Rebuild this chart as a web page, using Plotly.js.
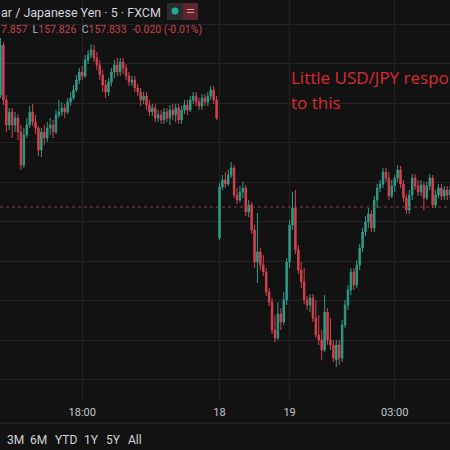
<!DOCTYPE html>
<html><head><meta charset="utf-8">
<script src="https://cdn.plot.ly/plotly-3.0.1.min.js"></script>
<style>html,body{margin:0;padding:0;background:#121212;}#chart{width:450px;height:450px;}</style>
</head><body><div id="chart"></div>
<script>
const openP = [157.945,157.995,157.940,157.915,157.928,157.915,157.922,157.908,157.875,157.905,
157.915,157.928,157.918,157.912,157.890,157.908,157.902,157.912,157.915,157.908,
157.925,157.928,157.932,157.928,157.938,157.942,157.950,157.960,157.968,157.964,
157.980,157.985,157.990,157.982,157.975,157.965,157.955,157.948,157.958,157.968,
157.975,157.968,157.978,157.972,157.964,157.958,157.960,157.952,157.948,157.940,
157.944,157.935,157.928,157.932,157.922,157.925,157.920,157.928,157.922,157.930,
157.925,157.932,157.920,157.930,157.935,157.930,157.940,157.944,157.938,157.934,
157.942,157.938,157.944,157.950,157.940,
157.802,157.853,157.860,157.856,157.865,157.872,157.845,157.840,157.848,157.852,
157.828,157.835,157.810,157.778,157.788,157.775,157.768,157.748,157.738,157.710,
157.702,157.726,157.718,157.740,157.778,157.815,157.832,157.790,157.770,157.758,
157.740,157.735,157.742,157.722,157.705,157.700,157.690,157.728,157.700,157.695,
157.680,157.695,157.682,157.715,157.735,157.750,157.768,157.755,157.775,157.792,
157.808,157.818,157.826,157.812,157.840,157.852,157.856,157.868,157.862,157.844,
157.854,157.862,157.870,157.856,157.842,157.830,157.845,157.862,157.854,157.848,
157.855,157.842,157.854,157.862,157.835,157.845,157.852,157.844,157.850,157.845];
const highP = [158.002,157.998,157.945,157.932,157.932,157.928,157.926,157.915,157.912,157.922,
157.934,157.936,157.925,157.914,157.912,157.915,157.918,157.922,157.920,157.930,
157.940,157.938,157.936,157.942,157.948,157.955,157.965,157.972,157.974,157.985,
157.990,157.996,157.995,157.988,157.980,157.970,157.960,157.962,157.972,157.980,
157.982,157.982,157.982,157.976,157.968,157.964,157.964,157.956,157.952,157.948,
157.948,157.940,157.936,157.936,157.930,157.930,157.932,157.932,157.935,157.936,
157.936,157.936,157.934,157.940,157.940,157.944,157.948,157.948,157.942,157.946,
157.946,157.948,157.954,157.954,157.944,
157.857,157.865,157.868,157.870,157.878,157.875,157.852,157.854,157.858,157.855,
157.840,157.838,157.815,157.827,157.792,157.785,157.772,157.752,157.742,157.725,
157.738,157.732,157.748,157.782,157.820,157.848,157.850,157.795,157.778,157.772,
157.744,157.746,157.746,157.740,157.725,157.710,157.745,157.732,157.722,157.700,
157.700,157.700,157.720,157.740,157.755,157.772,157.772,157.780,157.796,157.812,
157.824,157.832,157.830,157.844,157.856,157.860,157.872,157.872,157.868,157.860,
157.865,157.875,157.874,157.860,157.846,157.850,157.866,157.866,157.860,157.860,
157.858,157.858,157.866,157.865,157.850,157.856,157.856,157.854,157.854,157.854];
const lowP = [157.942,157.935,157.908,157.910,157.902,157.908,157.900,157.870,157.872,157.902,
157.912,157.914,157.906,157.884,157.883,157.895,157.898,157.905,157.902,157.906,
157.922,157.924,157.922,157.926,157.934,157.940,157.948,157.956,157.960,157.962,
157.976,157.982,157.978,157.970,157.960,157.948,157.942,157.944,157.954,157.962,
157.964,157.964,157.966,157.960,157.954,157.954,157.948,157.944,157.934,157.936,
157.930,157.924,157.924,157.918,157.918,157.916,157.916,157.918,157.915,157.920,
157.918,157.916,157.916,157.926,157.925,157.928,157.936,157.934,157.930,157.930,
157.934,157.934,157.940,157.936,157.920,
157.800,157.850,157.852,157.854,157.862,157.842,157.836,157.838,157.842,157.824,
157.823,157.806,157.772,157.757,157.770,157.764,157.744,157.734,157.706,157.698,
157.700,157.710,157.715,157.735,157.772,157.810,157.786,157.766,157.752,157.736,
157.730,157.728,157.718,157.702,157.695,157.680,157.688,157.695,157.690,157.678,
157.673,157.675,157.678,157.712,157.730,157.745,157.750,157.752,157.770,157.788,
157.804,157.812,157.808,157.808,157.832,157.848,157.852,157.858,157.840,157.842,
157.848,157.858,157.852,157.838,157.826,157.826,157.840,157.850,157.844,157.844,
157.830,157.840,157.850,157.832,157.832,157.842,157.840,157.840,157.840,157.842];
const closeP = [157.995,157.940,157.915,157.928,157.915,157.922,157.908,157.875,157.905,157.915,
157.928,157.918,157.912,157.890,157.908,157.902,157.912,157.915,157.908,157.925,
157.928,157.932,157.928,157.938,157.942,157.950,157.960,157.968,157.964,157.980,
157.985,157.990,157.982,157.975,157.965,157.955,157.948,157.958,157.968,157.975,
157.968,157.978,157.972,157.964,157.958,157.960,157.952,157.948,157.940,157.944,
157.935,157.928,157.932,157.922,157.925,157.920,157.928,157.922,157.930,157.925,
157.932,157.920,157.930,157.935,157.930,157.940,157.944,157.938,157.934,157.942,
157.938,157.944,157.950,157.940,157.922,
157.853,157.860,157.856,157.865,157.872,157.845,157.840,157.848,157.852,157.828,
157.835,157.810,157.778,157.788,157.775,157.768,157.748,157.738,157.710,157.702,
157.726,157.718,157.740,157.778,157.815,157.832,157.790,157.770,157.758,157.740,
157.735,157.742,157.722,157.705,157.700,157.690,157.728,157.700,157.695,157.682,
157.695,157.682,157.715,157.735,157.750,157.768,157.755,157.775,157.792,157.808,
157.818,157.826,157.812,157.840,157.852,157.856,157.868,157.862,157.844,157.854,
157.862,157.870,157.856,157.842,157.830,157.845,157.862,157.854,157.848,157.855,
157.842,157.854,157.862,157.835,157.845,157.852,157.844,157.850,157.845,157.850];

const tickPositions = [28, 75, 99, 135];
const tickLabels = ['18:00', '18', '19', '03:00'];
const lastPrice = 157.833;
const headerTitle = 'ar / Japanese Yen · 5 · FXCM';
const ohlcParts = [['', '7.857'], ['L', '157.826'], ['C', '157.833'], ['', '-0.020 (-0.01%)']];
const rangeButtons = ['3M', '6M', 'YTD', '1Y', '5Y', 'All'];
const noteLines = ['Little USD/JPY respo', 'to this'];

const barIndex = closeP.map((_, i) => i);

// pixel helpers for overlay placement (plot area spans x 0..450, y 0..400)
const PX = x => x / 450;
const PY = y => (400 - y) / 400;

const upCol = '#2e9c87', downCol = '#d4424e';
const font = 'Roboto, "Noto Sans", sans-serif';

const trace = {
  type: 'candlestick', x: barIndex, open: openP, high: highP, low: lowP, close: closeP,
  increasing: {line: {color: upCol, width: 1}, fillcolor: upCol},
  decreasing: {line: {color: downCol, width: 1}, fillcolor: downCol},
  whiskerwidth: 0, hoverinfo: 'skip', showlegend: false
};

const ohlcText = ohlcParts.map(([k, v]) =>
  (k ? '<span style="color:#b2b5be">' + k + '</span>' : '') +
  '<span style="color:#c8424f">' + v + '</span>').join('  ');

const buttonX = [5, 28, 53, 82, 104, 126];
const annotations = [
  {xref: 'paper', yref: 'paper', x: PX(-1), y: PY(12), xanchor: 'left', yanchor: 'middle',
   text: headerTitle, showarrow: false, font: {family: font, size: 12.5, color: '#d1d4dc'}},
  {xref: 'paper', yref: 'paper', x: PX(-1), y: PY(29), xanchor: 'left', yanchor: 'middle',
   text: ohlcText, showarrow: false, font: {family: font, size: 10.5, color: '#c8424f'}},
  {xref: 'paper', yref: 'paper', x: PX(289), y: PY(78), xanchor: 'left', yanchor: 'middle',
   text: noteLines[0], showarrow: false, font: {family: '"Open Sans", sans-serif', size: 17, color: '#dd2a2f'}},
  {xref: 'paper', yref: 'paper', x: PX(289), y: PY(103), xanchor: 'left', yanchor: 'middle',
   text: noteLines[1], showarrow: false, font: {family: '"Open Sans", sans-serif', size: 17, color: '#dd2a2f'}}
].concat(rangeButtons.map((b, i) => ({
  xref: 'paper', yref: 'paper', x: PX(buttonX[i]), y: PY(440), xanchor: 'left', yanchor: 'middle',
  text: b, showarrow: false, font: {family: font, size: 12, color: '#d1d4dc'}
})));

const shapes = [
  {type: 'line', xref: 'paper', yref: 'y', x0: 0, x1: 1, y0: lastPrice, y1: lastPrice,
   line: {color: '#8a3a42', width: 1, dash: 'dot'}},
  {type: 'line', xref: 'paper', yref: 'paper', x0: 0, x1: 1, y0: PY(423), y1: PY(423),
   line: {color: '#2a2a2a', width: 1}},
  {type: 'rect', xref: 'paper', yref: 'paper', x0: PX(167), x1: PX(183), y0: PY(20), y1: PY(3),
   fillcolor: '#2a2c2b', line: {width: 0}},
  {type: 'rect', xref: 'paper', yref: 'paper', x0: PX(183), x1: PX(198), y0: PY(20), y1: PY(3),
   fillcolor: '#5e2630', line: {width: 0}},
  {type: 'circle', xref: 'paper', yref: 'paper', x0: PX(171.5), x1: PX(178.5), y0: PY(14.5), y1: PY(7.5),
   fillcolor: '#22ab94', line: {width: 0}},
  {type: 'line', xref: 'paper', yref: 'paper', x0: PX(187), x1: PX(194), y0: PY(9.5), y1: PY(9.5),
   line: {color: '#f08a95', width: 1}},
  {type: 'line', xref: 'paper', yref: 'paper', x0: PX(187), x1: PX(194), y0: PY(12.5), y1: PY(12.5),
   line: {color: '#f08a95', width: 1}}
];

const layout = {
  width: 450, height: 450, margin: {l: 0, r: 0, t: 0, b: 50},
  paper_bgcolor: '#121212', plot_bgcolor: '#121212', showlegend: false,
  xaxis: {range: [-0.17, 153.94], rangeslider: {visible: false}, tickmode: 'array',
    tickvals: tickPositions, ticktext: tickLabels, ticks: '', showline: false, zeroline: false,
    ticklabelstandoff: 4,
    gridcolor: '#232323', gridwidth: 1, tickfont: {family: font, size: 11, color: '#c4c6cc'}},
  yaxis: {range: [157.640, 158.040], tick0: 158.016, dtick: 0.0395, showticklabels: false,
    gridcolor: '#232323', gridwidth: 1, zeroline: false, showline: false},
  annotations: annotations, shapes: shapes
};

Plotly.newPlot('chart', [trace], layout, {displayModeBar: false, staticPlot: true});
</script></body></html>
